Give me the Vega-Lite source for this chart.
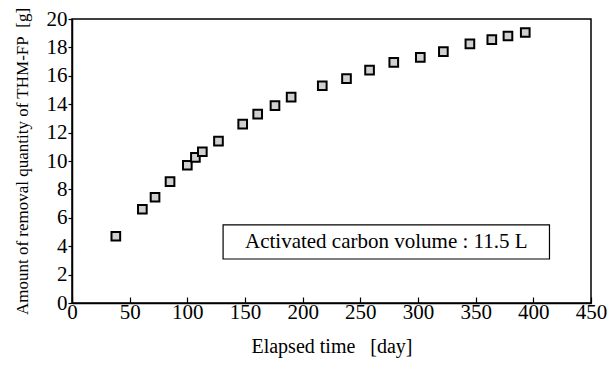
{
  "$schema": "https://vega.github.io/schema/vega-lite/v6.json",
  "width": 519,
  "height": 284,
  "autosize": "none",
  "padding": {"left": 72, "top": 19, "right": 19, "bottom": 72},
  "background": "white",
  "config": {
    "view": {"stroke": "black", "strokeWidth": 1.5},
    "font": "Liberation Serif",
    "axis": {"labelOverlap": false, "labelFlush": false, "grid": false}
  },
  "layer": [
    {
      "data": {
        "values": [
          {"day": 38, "amount": 4.7},
          {"day": 61, "amount": 6.6},
          {"day": 72, "amount": 7.45},
          {"day": 85, "amount": 8.55},
          {"day": 100, "amount": 9.7},
          {"day": 107, "amount": 10.25},
          {"day": 113, "amount": 10.65},
          {"day": 127, "amount": 11.4},
          {"day": 148, "amount": 12.6},
          {"day": 161, "amount": 13.3},
          {"day": 176, "amount": 13.9},
          {"day": 190, "amount": 14.5},
          {"day": 217, "amount": 15.3},
          {"day": 238, "amount": 15.8},
          {"day": 258, "amount": 16.4},
          {"day": 279, "amount": 16.95},
          {"day": 302, "amount": 17.3},
          {"day": 322, "amount": 17.7},
          {"day": 345, "amount": 18.25},
          {"day": 364, "amount": 18.55},
          {"day": 378, "amount": 18.8},
          {"day": 393, "amount": 19.05}
        ]
      },
      "mark": {"type": "point", "shape": "square", "filled": true, "fill": "#d0d0d0", "stroke": "black", "strokeWidth": 2, "size": 75, "opacity": 1},
      "encoding": {
        "x": {
          "field": "day", "type": "quantitative",
          "scale": {"domain": [0, 450], "nice": false, "zero": true},
          "axis": {
            "values": [0, 50, 100, 150, 200, 250, 300, 350, 400, 450],
            "title": "Elapsed time\u00a0\u00a0\u00a0[day]",
            "titleFont": "Liberation Serif", "titleFontSize": 20, "titleFontWeight": "normal", "titleColor": "black",
            "titlePadding": 14,
            "labelFont": "Liberation Serif", "labelFontSize": 21, "labelColor": "black", "labelOverlap": false,
            "labelPadding": 4, "tickSize": -6, "tickColor": "black", "tickWidth": 1.2,
            "domainColor": "black", "domainWidth": 1.5, "grid": false, "labelFlush": false
          }
        },
        "y": {
          "field": "amount", "type": "quantitative",
          "scale": {"domain": [0, 20], "nice": false},
          "axis": {
            "values": [0, 2, 4, 6, 8, 10, 12, 14, 16, 18, 20],
            "title": "Amount of removal quantity of THM-FP\u00a0\u00a0[g]",
            "titleFont": "Liberation Serif", "titleFontSize": 17, "titleFontWeight": "normal", "titleColor": "black",
            "titlePadding": 15,
            "labelFont": "Liberation Serif", "labelFontSize": 21, "labelColor": "black", "labelOverlap": false,
            "labelPadding": 1, "tickSize": 4, "tickColor": "black", "tickWidth": 1.2,
            "domainColor": "black", "domainWidth": 1.5, "grid": false, "labelFlush": false
          }
        }
      }
    },
    {
      "data": {"values": [{"label": "Activated carbon volume : 11.5 L", "x1": 131, "x2": 414, "y1": 5.5, "y2": 3.1}]},
      "mark": {"type": "rect", "fill": "white", "stroke": "black", "strokeWidth": 1.2},
      "encoding": {
        "x": {
          "field": "x1", "type": "quantitative",
          "axis": {
            "values": [0, 50, 100, 150, 200, 250, 300, 350, 400, 450],
            "title": "Elapsed time\u00a0\u00a0\u00a0[day]",
            "titleFont": "Liberation Serif", "titleFontSize": 20, "titleFontWeight": "normal", "titleColor": "black",
            "titlePadding": 14,
            "labelFont": "Liberation Serif", "labelFontSize": 21, "labelColor": "black", "labelOverlap": false,
            "labelPadding": 4, "tickSize": -6, "tickColor": "black", "tickWidth": 1.2,
            "domainColor": "black", "domainWidth": 1.5, "grid": false, "labelFlush": false
          }
        },
        "x2": {"field": "x2"},
        "y": {
          "field": "y1", "type": "quantitative",
          "axis": {
            "values": [0, 2, 4, 6, 8, 10, 12, 14, 16, 18, 20],
            "title": "Amount of removal quantity of THM-FP\u00a0\u00a0[g]",
            "titleFont": "Liberation Serif", "titleFontSize": 17, "titleFontWeight": "normal", "titleColor": "black",
            "titlePadding": 15,
            "labelFont": "Liberation Serif", "labelFontSize": 21, "labelColor": "black", "labelOverlap": false,
            "labelPadding": 1, "tickSize": 4, "tickColor": "black", "tickWidth": 1.2,
            "domainColor": "black", "domainWidth": 1.5, "grid": false, "labelFlush": false
          }
        },
        "y2": {"field": "y2"}
      }
    },
    {
      "data": {"values": [{"label": "Activated carbon volume : 11.5 L", "xm": 272.5, "ym": 4.3}]},
      "mark": {"type": "text", "font": "Liberation Serif", "fontSize": 21, "fontWeight": "normal", "fill": "black", "align": "center", "baseline": "middle"},
      "encoding": {
        "x": {
          "field": "xm", "type": "quantitative",
          "axis": {
            "values": [0, 50, 100, 150, 200, 250, 300, 350, 400, 450],
            "title": "Elapsed time\u00a0\u00a0\u00a0[day]",
            "titleFont": "Liberation Serif", "titleFontSize": 20, "titleFontWeight": "normal", "titleColor": "black",
            "titlePadding": 14,
            "labelFont": "Liberation Serif", "labelFontSize": 21, "labelColor": "black", "labelOverlap": false,
            "labelPadding": 4, "tickSize": -6, "tickColor": "black", "tickWidth": 1.2,
            "domainColor": "black", "domainWidth": 1.5, "grid": false, "labelFlush": false
          }
        },
        "y": {
          "field": "ym", "type": "quantitative",
          "axis": {
            "values": [0, 2, 4, 6, 8, 10, 12, 14, 16, 18, 20],
            "title": "Amount of removal quantity of THM-FP\u00a0\u00a0[g]",
            "titleFont": "Liberation Serif", "titleFontSize": 17, "titleFontWeight": "normal", "titleColor": "black",
            "titlePadding": 15,
            "labelFont": "Liberation Serif", "labelFontSize": 21, "labelColor": "black", "labelOverlap": false,
            "labelPadding": 1, "tickSize": 4, "tickColor": "black", "tickWidth": 1.2,
            "domainColor": "black", "domainWidth": 1.5, "grid": false, "labelFlush": false
          }
        },
        "text": {"field": "label"}
      }
    }
  ]
}
